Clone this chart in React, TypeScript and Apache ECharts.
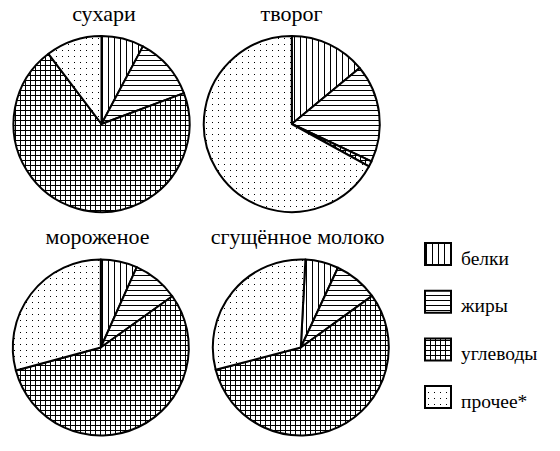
import React, { useEffect, useRef } from "react";
import * as echarts from "echarts";

const categories = ["белки", "жиры", "углеводы", "прочее*"];
const products = ["сухари", "творог", "мороженое", "сгущённое молоко"];
const rusksValues = [7.8, 11.5, 70.4, 10.3];
const curdValues = [14, 18, 1, 67];
const iceCreamValues = [6.7, 8.4, 55.7, 29.2];
const condensedMilkValues = [6.1, 8.1, 55.9, 29.9];

const seriesValues = [rusksValues, curdValues, iceCreamValues, condensedMilkValues];

function makePattern(kind: string) {
  const c = document.createElement("canvas");
  let w = 6;
  let h = 6;
  if (kind === "h") { w = 6; h = 5; }
  if (kind === "grid") { w = 5; h = 5; }
  c.width = w;
  c.height = h;
  const ctx = c.getContext("2d")!;
  ctx.fillStyle = "#fff";
  ctx.fillRect(0, 0, w, h);
  ctx.fillStyle = "#000";
  if (kind === "v") ctx.fillRect(0, 0, 1, h);
  if (kind === "h") ctx.fillRect(0, 0, w, 1);
  if (kind === "grid") { ctx.fillRect(0, 0, 1, h); ctx.fillRect(0, 0, w, 1); }
  if (kind === "dots") ctx.fillRect(2, 2, 1, 1);
  return { image: c.toDataURL(), repeat: "repeat", imageWidth: w, imageHeight: h } as any;
}

export default function App() {
  const ref = useRef<HTMLDivElement>(null);
  useEffect(() => {
    const chart = echarts.init(ref.current!, null, { renderer: "svg" });
    const patterns = [makePattern("v"), makePattern("h"), makePattern("grid"), makePattern("dots")];
    const centers = [[101.5, 124], [291.8, 124], [100.8, 347.5], [300.8, 347.5]];
    const startAngles = [90, 90, 90, 87];
    const titlePos = [[104, 13.5], [291.5, 13.5], [97.5, 236], [297.5, 236]];
    const series = seriesValues.map((vals, i) => ({
      type: "pie",
      name: products[i],
      center: centers[i],
      radius: 88,
      startAngle: startAngles[i],
      clockwise: true,
      label: { show: false },
      labelLine: { show: false },
      emphasis: { disabled: true },
      silent: true,
      itemStyle: { borderColor: "#000", borderWidth: 2 },
      data: vals.map((v, j) => ({
        name: categories[j],
        value: v,
        itemStyle: { color: patterns[j] },
      })),
    }));
    const legendTop = 243;
    const legendStep = 47.7;
    const legendEls: any[] = [];
    categories.forEach((c, j) => {
      const y = legendTop + j * legendStep;
      legendEls.push({
        type: "rect",
        shape: { x: 425, y, width: 26, height: 22 },
        style: { fill: patterns[j], stroke: "#000", lineWidth: 2 },
        silent: true,
      });
      legendEls.push({
        type: "text",
        x: 461,
        y: y + 15,
        style: {
          text: c,
          fill: "#000",
          font: "19.5px 'Liberation Serif', 'Times New Roman', serif",
          textAlign: "left",
          textVerticalAlign: "middle",
        },
        silent: true,
      });
    });
    chart.setOption({
      animation: false,
      backgroundColor: "#fff",
      graphic: [
        ...products.map((p, i) => ({
          type: "text",
          x: titlePos[i][0],
          y: titlePos[i][1],
          silent: true,
          style: {
            text: p,
            fill: "#000",
            font: "22px 'Liberation Serif', 'Times New Roman', serif",
            textAlign: "center",
            textVerticalAlign: "middle",
          },
        })),
        ...legendEls,
      ],
      series,
    });
    return () => chart.dispose();
  }, []);
  return (
    <div
      ref={ref}
      style={{ position: "fixed", left: 0, top: 0, width: 560, height: 451, background: "#fff" }}
    />
  );
}
